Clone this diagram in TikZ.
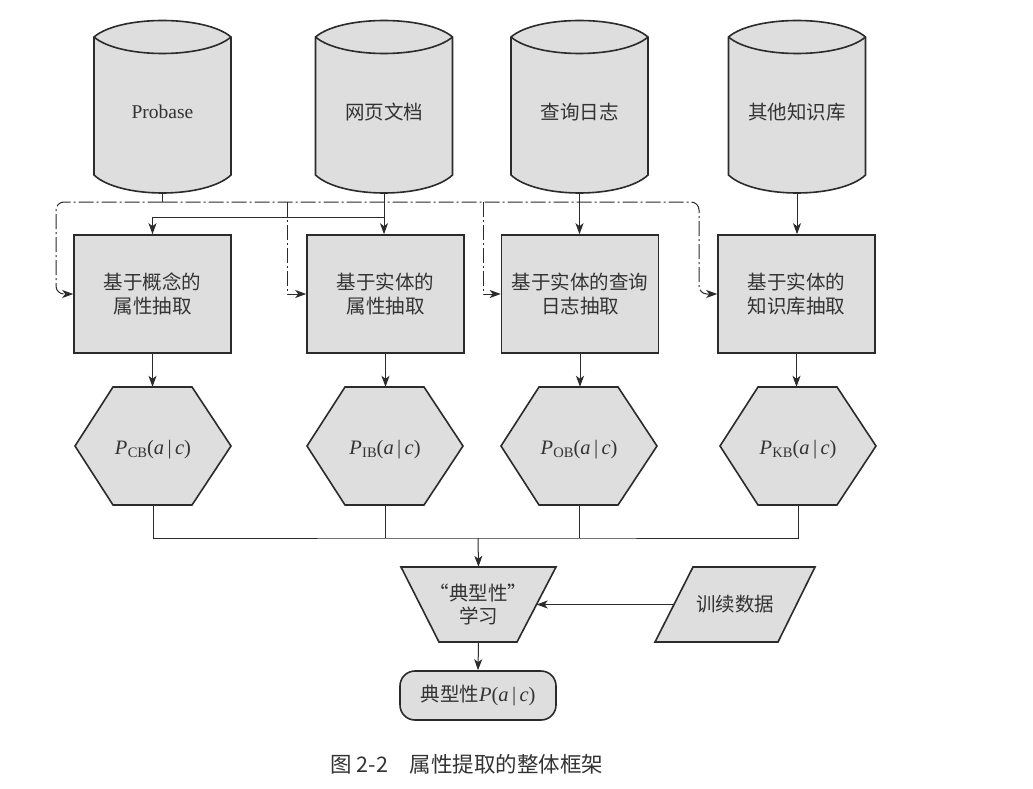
\documentclass[tikz,border=0pt]{standalone}
\usepackage{fontspec}
\setmainfont{Liberation Serif}
\newfontfamily\cjk{Noto Sans CJK SC}
\usetikzlibrary{arrows.meta}
\definecolor{ln}{HTML}{2B2B2B}
\definecolor{fl}{HTML}{DEDEDE}
\definecolor{tx}{HTML}{333333}
\newcommand\Pab[1]{\textit{P}\kern0.3pt\raisebox{-0.3ex}{\fontsize{14.5}{15}\selectfont #1}(\textit{a}\,|\,\textit{c})}
\newcommand\mycyl[3]{%
  \filldraw[shp,shift={(#2,0)}] (-68.5,37) .. controls (-43,15) and (43,15) .. (68.5,37) -- (68.5,175) .. controls (43,199) and (-43,199) .. (-68.5,175) -- cycle;
  \draw[shp,fill=none,shift={(#2,0)}] (-68.5,37) .. controls (-43,59) and (43,59) .. (68.5,37);
  \node[plain] (#1) at (#2,112) {#3};
  \coordinate (#1-b) at (#2,193);}
\newcommand\myhex[3]{%
  \filldraw[shp,shift={(#2,446)}] (-78,0) -- (-40,-59) -- (39,-59) -- (78,0) -- (39,59) -- (-40,59) -- cycle;
  \node[plain,minimum width=156pt,minimum height=118pt] (#1) at (#2,446) {};
  \node[plain,font=\fontsize{20.5}{24}\selectfont] (#1-t) at (#2,450) {#3};}
\begin{document}
\begin{tikzpicture}[x=1pt,y=-1pt,
  shp/.style={draw=ln,fill=fl,line width=1.6pt,line join=miter},
  plain/.style={inner sep=0pt,text=tx,align=center,font=\fontsize{19.5}{24}\selectfont},
  box/.style={shp,minimum width=157pt,minimum height=118pt,align=center,text=tx,inner sep=0pt,font=\cjk\fontsize{19.5}{23.5}\selectfont},
  conn/.style={draw=ln,line width=1pt},
  arr/.style={-{Stealth[length=11pt,width=8pt,inset=3pt]}},
  dd/.style={conn,dash pattern=on 15pt off 3pt on 2pt off 3pt}]
\useasboundingbox[fill=white] (0,0) rectangle (1033,789);

\mycyl{db1}{162.5}{Probase}
\mycyl{db2}{384}{\cjk 网页文档}
\mycyl{db3}{579.5}{\cjk 查询日志}
\mycyl{db4}{797}{\cjk 其他知识库}

\node[box] (m1) at (152.5,294) {基于概念的\\属性抽取};
\node[box] (m2) at (385.5,294) {基于实体的\\属性抽取};
\node[box] (m3) at (580,294) {基于实体的查询\\日志抽取};
\node[box] (m4) at (796.5,294) {基于实体的\\知识库抽取};

\myhex{h1}{153}{\Pab{CB}}
\myhex{h2}{385}{\Pab{IB}}
\myhex{h3}{579}{\Pab{OB}}
\myhex{h4}{798}{\Pab{KB}}

\filldraw[shp] (401,567) -- (556,567) -- (517,642) -- (439,642) -- cycle;
\node[plain,font=\cjk\fontsize{19.5}{23}\selectfont,minimum width=155pt,minimum height=75pt] (trap) at (478.5,604.5) {“典型性”\\学习};

\filldraw[shp] (693,567) -- (815,567) -- (778,642) -- (655,642) -- cycle;
\node[plain,font=\cjk\fontsize{19.5}{23}\selectfont,minimum width=122pt,minimum height=75pt] (td) at (735,604.5) {训续数据};

\node[shp,rounded corners=15pt,minimum width=156pt,minimum height=49pt,inner sep=0pt,text=tx,font=\fontsize{20.5}{24}\selectfont] (out) at (478,695.5) {{\cjk\fontsize{19.5}{24}\selectfont 典型性}\textit{P}(\textit{a}\,|\,\textit{c})};

\node[plain,font=\cjk\fontsize{21.5}{24}\selectfont] (cap) at (467,764) {图 2-2\quad 属性提取的整体框架};

% connectors
\coordinate (bus) at (162.5,202);
\draw[conn] (db1-b) -- (bus);
\draw[dd,arr] (bus) [rounded corners=8pt] -- (56,202) -- (56,294) [sharp corners] -- (m1.west);
\draw[dd,arr] (bus) [rounded corners=8pt] -- (699,202) -- (699,294) [sharp corners] -- (m4.west);
\draw[dd,arr] (287,202) |- (m2.west);
\draw[dd,arr] (483,202) |- (m3.west);
\coordinate (j2) at (384,217);
\draw[conn,arr] (db2-b) -- (db2-b |- m2.north);
\draw[conn,arr] (j2) -| (m1.north);
\draw[conn,arr] (db3-b) -- (db3-b |- m3.north);
\draw[conn,arr] (db4-b) -- (db4-b |- m4.north);
\draw[conn,arr] (m1.south) -- (m1.south |- h1.north);
\draw[conn,arr] (m2.south) -- (m2.south |- h2.north);
\draw[conn,arr] (m3.south) -- (m3.south |- h3.north);
\draw[conn,arr] (m4.south) -- (m4.south |- h4.north);
\coordinate (hb) at (478,538);
\draw[conn] (h1.south) |- (hb) -| (h4.south);
\draw[conn] (h2.south) -- (h2.south |- hb);
\draw[conn] (h3.south) -- (h3.south |- hb);
\draw[conn,arr] (hb) -- (trap.north);
\draw[conn,arr] (td.west) -- ([xshift=-19.5pt]trap.east);
\draw[conn,arr] (trap.south) -- (out.north);
\end{tikzpicture}
\end{document}
